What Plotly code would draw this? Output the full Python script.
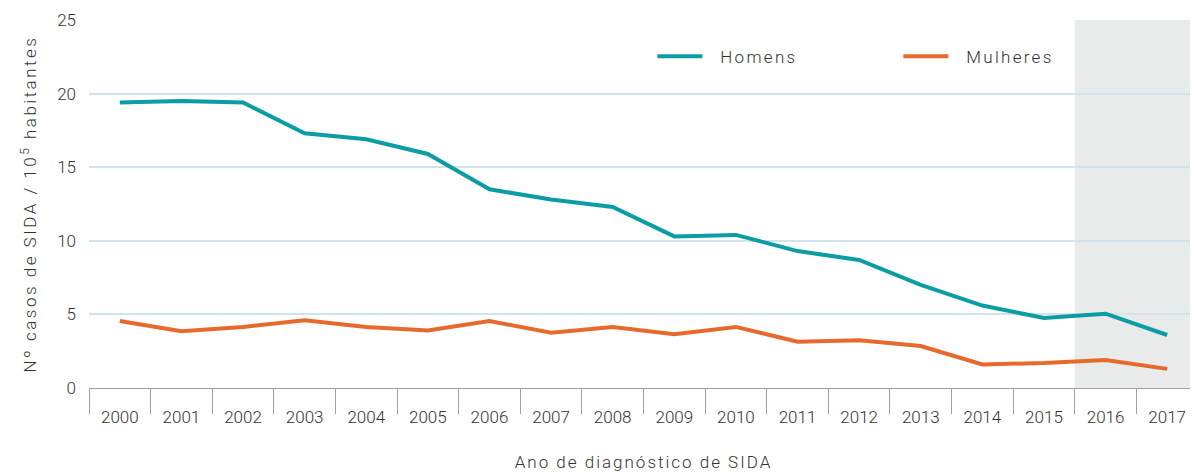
import plotly.graph_objects as go

# Taxa de casos de SIDA por 100 000 habitantes, por sexo
years = [str(y) for y in range(2000, 2018)]
homens = [19.4, 19.5, 19.4, 17.3, 16.9, 15.9, 13.5, 12.8, 12.3, 10.3,
          10.4, 9.3, 8.7, 7.0, 5.6, 4.75, 5.05, 3.6]
mulheres = [4.55, 3.85, 4.15, 4.6, 4.15, 3.9, 4.55, 3.75, 4.15, 3.65,
            4.15, 3.15, 3.25, 2.85, 1.6, 1.7, 1.9, 1.3]
y_ticks = [0, 5, 10, 15, 20, 25]

TEAL = "#0b9ca4"
ORANGE = "#e8692e"
TEXT = "#333333"
FONT = "Roboto"


def spaced(text, px):
    # the original uses a widely tracked light font
    return f'<span style="letter-spacing:{px}px">{text}</span>'


fig = go.Figure()

# provisional years (2016-2017) shaded
fig.add_shape(
    type="rect", layer="below",
    xref="x", yref="y",
    x0=15.5, x1=17.5, y0=0, y1=25,
    fillcolor="#e9ebea", line_width=0,
)

fig.add_trace(go.Scatter(
    x=years, y=homens, mode="lines", name=spaced("\u00a0\u00a0Homens", 2.3),
    line=dict(color=TEAL, width=4),
))
fig.add_trace(go.Scatter(
    x=years, y=mulheres, mode="lines", name=spaced("\u00a0\u00a0Mulheres", 2.3),
    line=dict(color=ORANGE, width=4),
))

# page body adds an 8px offset, so the figure is 8px smaller each way
fig.update_layout(
    autosize=False,
    width=1190, height=464,
    margin=dict(l=81, r=0, t=12, b=84),
    plot_bgcolor="white",
    paper_bgcolor="white",
    font=dict(family=FONT, color=TEXT, size=16, weight=300),
    showlegend=True,
    legend=dict(
        orientation="h",
        x=0.508, xanchor="left",
        y=0.9, yanchor="middle",
        font=dict(size=17, color=TEXT, weight=300),
        entrywidth=186, entrywidthmode="pixels",
        itemwidth=45,
        bgcolor="rgba(0,0,0,0)",
    ),
    xaxis=dict(
        type="category",
        range=[-0.5, 17.5],
        automargin=False,
        tickson="boundaries",
        ticks="outside", ticklen=25, tickwidth=1, tickcolor="#a0a0a0",
        ticklabelstandoff=14,
        showline=True, linecolor="#a0a0a0", linewidth=1,
        showgrid=False,
        tickfont=dict(size=17, color=TEXT, weight=300),
        title=dict(text=spaced("Ano de diagnóstico de SIDA", 2), standoff=36,
                   font=dict(size=17, color=TEXT, weight=300)),
        fixedrange=True,
    ),
    yaxis=dict(
        range=[0, 25],
        automargin=False,
        tickvals=y_ticks,
        showgrid=True, gridcolor="#d2e4eb", gridwidth=1.5,
        zeroline=False,
        ticks="", ticklabelstandoff=12,
        tickfont=dict(size=17, color=TEXT, weight=300),
        title=dict(text=spaced("Nº casos de SIDA / 10<sup>5</sup> habitantes", 2.5),
                   standoff=16, font=dict(size=17, color=TEXT, weight=300)),
        fixedrange=True,
    ),
)

fig.write_html("out.html", config={"responsive": False})
